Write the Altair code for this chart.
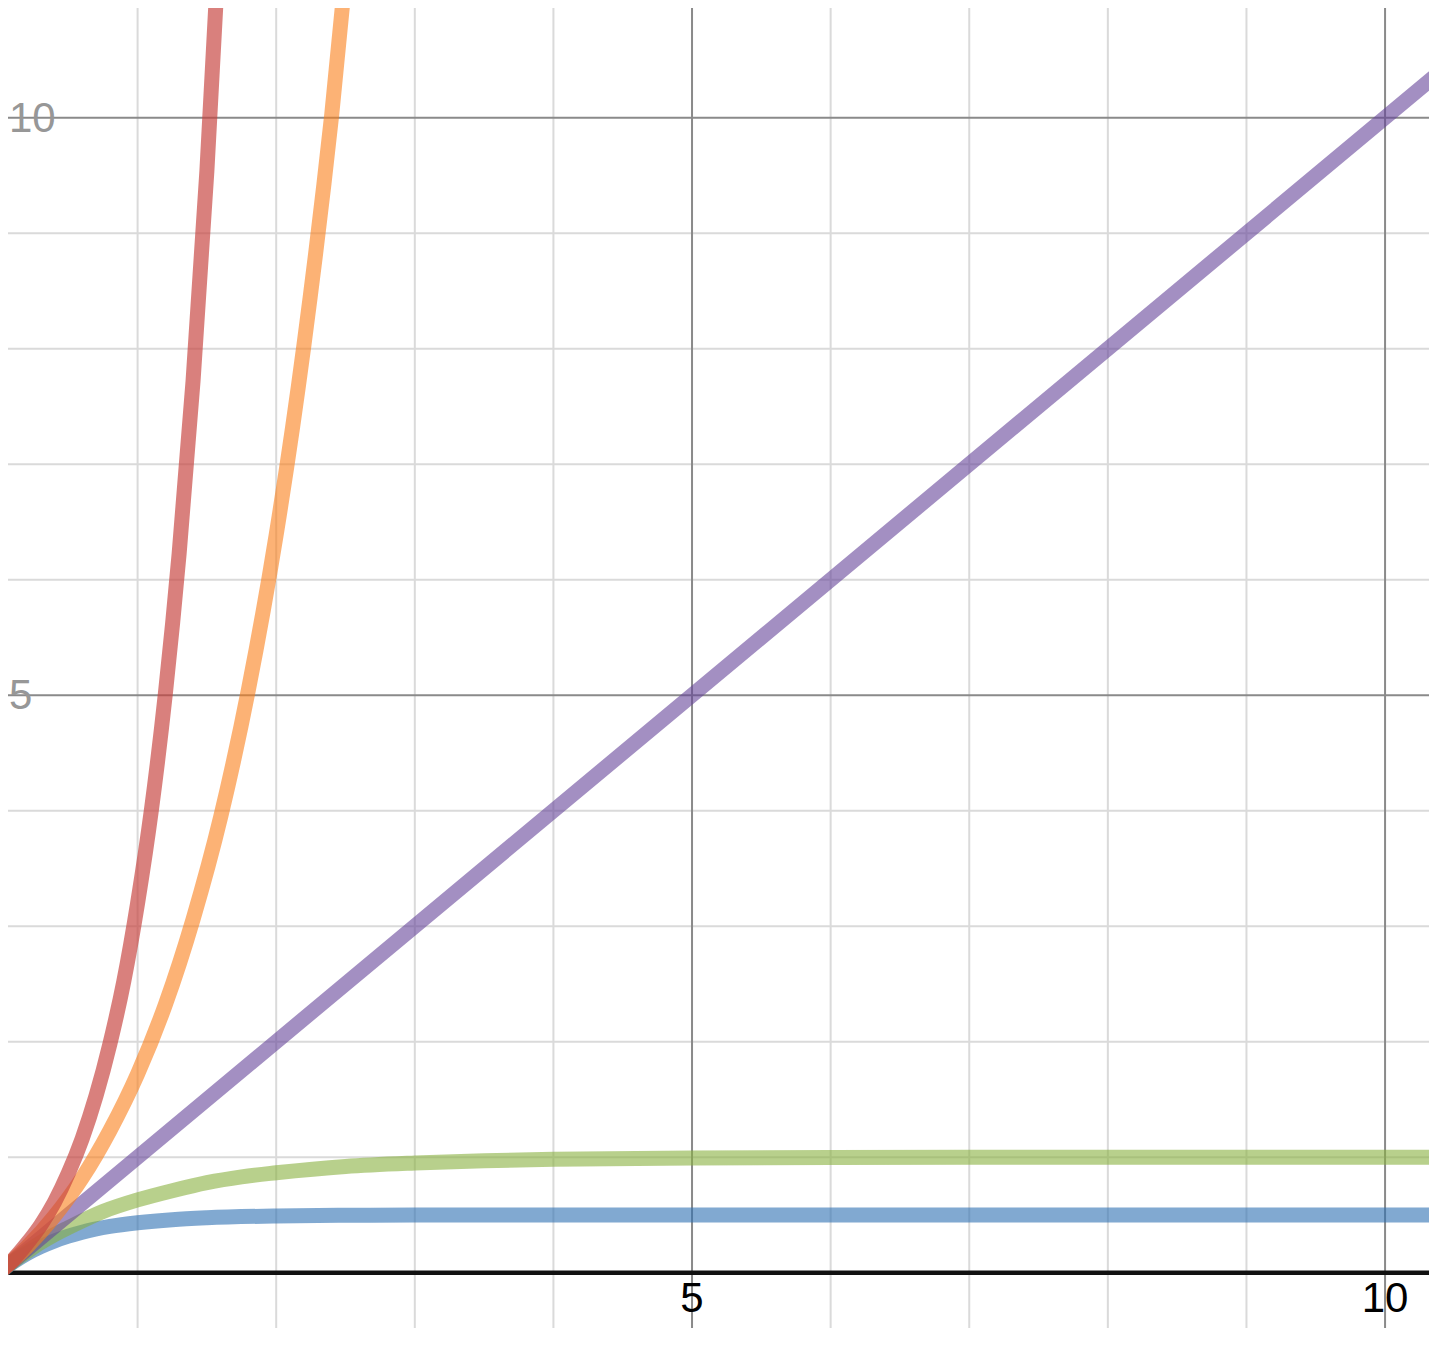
import altair as alt
import pandas as pd

# visible window of the graph (data units)
X_MIN, X_MAX = 0.065, 10.317
Y_MIN, Y_MAX = -0.479, 10.95

# grid / tick values
minor_ticks = [1, 2, 3, 4, 6, 7, 8, 9]
major_ticks = [5, 10]
tick_labels = ["5", "10"]

# curves
blue_x = [0, 0.1, 0.2, 0.3, 0.4, 0.5, 0.6, 0.8, 1.0, 1.25, 1.5, 2.0, 2.5, 3.0, 4.0, 10.5]
blue_y = [0, 0.09, 0.165, 0.225, 0.275, 0.316, 0.35, 0.40, 0.432, 0.459, 0.475, 0.491, 0.497, 0.499, 0.5, 0.5]

green_x = [0, 0.1, 0.2, 0.3, 0.4, 0.5, 0.75, 1.0, 1.25, 1.5, 1.75, 2.0, 2.5, 3.0, 3.5, 4.0, 5.0, 6.0, 7.0, 10.5]
green_y = [0, 0.095, 0.18, 0.26, 0.33, 0.39, 0.53, 0.63, 0.71, 0.78, 0.83, 0.865, 0.92, 0.95, 0.97, 0.982, 0.993, 0.998, 1.0, 1.0]

purple_x = [0, 10.5]
purple_y = [0, 10.5]

orange_x = [0, 0.2, 0.4, 0.6, 0.8, 1.0, 1.2, 1.4, 1.6, 1.8, 2.0, 2.2, 2.4, 2.6]
orange_y = [0, 0.22, 0.49, 0.82, 1.23, 1.72, 2.32, 3.06, 3.95, 5.05, 6.39, 8.03, 10.02, 12.46]

red_x = [0, 0.1, 0.2, 0.3, 0.4, 0.5, 0.6, 0.7, 0.8, 0.9, 1.0, 1.1, 1.2, 1.3, 1.4, 1.5, 1.6]
red_y = [0, 0.11, 0.25, 0.41, 0.61, 0.86, 1.16, 1.53, 1.98, 2.52, 3.2, 4.01, 5.01, 6.23, 7.72, 9.54, 11.77]

series = [
    ("blue", blue_x, blue_y, "#2d70b3", 0.6),
    ("green", green_x, green_y, "#89b13f", 0.6),
    ("purple", purple_x, purple_y, "#66449a", 0.6),
    ("orange", orange_x, orange_y, "#fa7e19", 0.6),
    ("red", red_x, red_y, "#c74440", 0.68),
]

xs = alt.Scale(domain=[X_MIN, X_MAX], nice=False, zero=False)
ys = alt.Scale(domain=[Y_MIN, Y_MAX], nice=False, zero=False)

minor_df = pd.DataFrame({"v": minor_ticks})
major_df = pd.DataFrame({"v": major_ticks, "label": tick_labels})

layers = []
layers.append(alt.Chart(minor_df).mark_rule(color="#dadada", strokeWidth=2).encode(
    x=alt.X("v:Q", scale=xs, axis=None)))
layers.append(alt.Chart(minor_df).mark_rule(color="#dadada", strokeWidth=2).encode(
    y=alt.Y("v:Q", scale=ys, axis=None)))
layers.append(alt.Chart(major_df).mark_rule(color="#8a8a8a", strokeWidth=2).encode(
    x=alt.X("v:Q", scale=xs, axis=None)))
layers.append(alt.Chart(major_df).mark_rule(color="#8a8a8a", strokeWidth=2).encode(
    y=alt.Y("v:Q", scale=ys, axis=None)))
layers.append(alt.Chart(pd.DataFrame({"v": [0]})).mark_rule(color="#111111", strokeWidth=4.5).encode(
    y=alt.Y("v:Q", scale=ys, axis=None)))

for name, sx, sy, col, op in series:
    df = pd.DataFrame({"x": sx, "y": sy})
    layers.append(alt.Chart(df).mark_line(
        color=col, strokeWidth=15, opacity=op, clip=True,
        interpolate="monotone", strokeCap="round", strokeJoin="round"
    ).encode(
        x=alt.X("x:Q", scale=xs, axis=None),
        y=alt.Y("y:Q", scale=ys, axis=None),
    ))

xlab_df = pd.DataFrame({"v": major_ticks, "label": tick_labels, "y": [-0.2226] * len(major_ticks)})
layers.append(alt.Chart(xlab_df).mark_text(
    font="Liberation Sans", fontSize=42, color="#000000", align="center", baseline="middle", dy=1
).encode(
    x=alt.X("v:Q", scale=xs, axis=None),
    y=alt.Y("y:Q", scale=ys, axis=None),
    text="label:N",
))

ylab_df = pd.DataFrame({"v": major_ticks, "label": tick_labels, "x": [X_MIN] * len(major_ticks)})
layers.append(alt.Chart(ylab_df).mark_text(
    font="Liberation Sans", fontSize=42, color="#979797", align="left", baseline="middle", dy=1, dx=1
).encode(
    x=alt.X("x:Q", scale=xs, axis=None),
    y=alt.Y("v:Q", scale=ys, axis=None),
    text="label:N",
))

chart = alt.layer(*layers).properties(
    width=1421, height=1320, padding=0, autosize=alt.AutoSizeParams(type="none"),
    background="white",
).configure_view(stroke=None)

chart.save("out.html", embed_options={"renderer": "svg", "actions": False})
